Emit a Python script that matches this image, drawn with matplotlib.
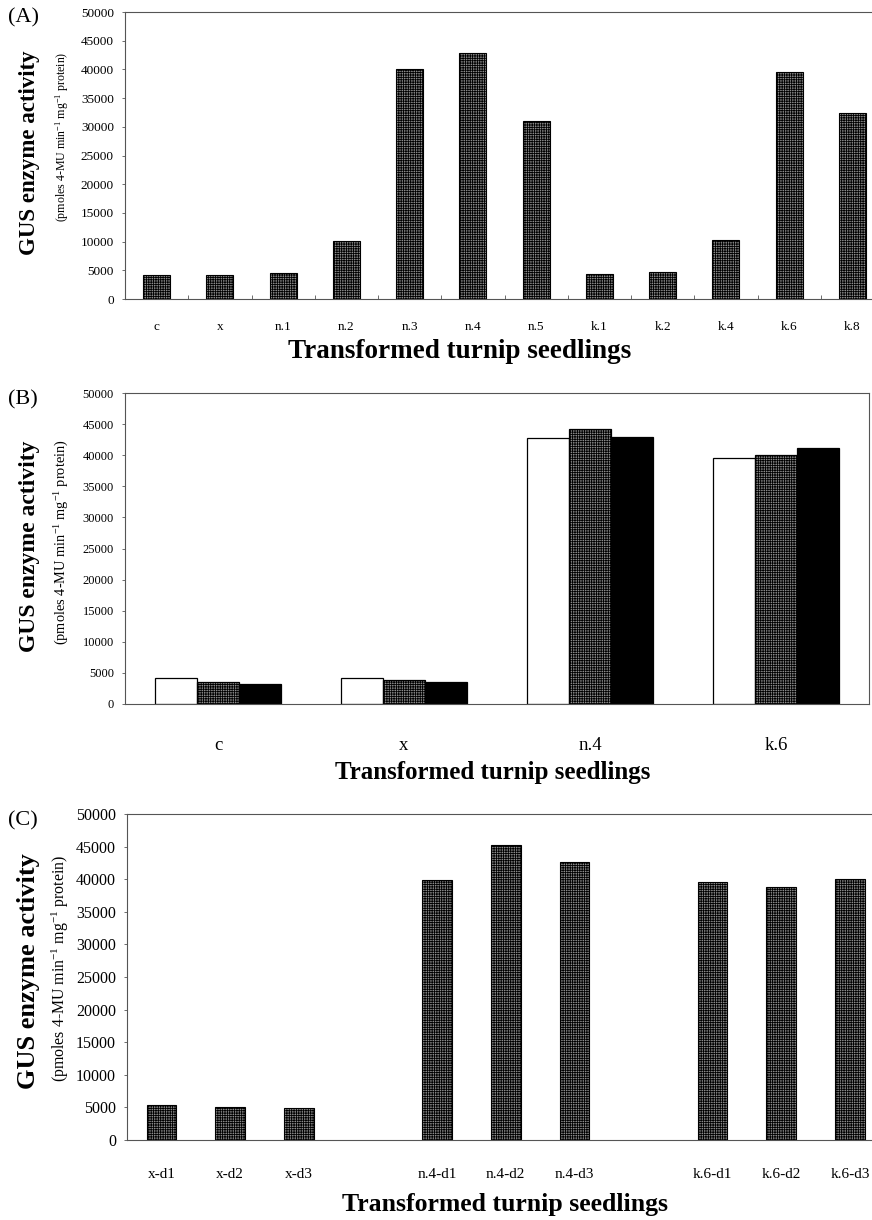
import numpy as np
import matplotlib.pyplot as plt

plt.rcParams['font.family'] = ['Liberation Serif', 'DejaVu Serif']
plt.rcParams['mathtext.default'] = 'regular'
plt.rcParams['hatch.linewidth'] = 0.6

# --- data ------------------------------------------------------------------
lines_a = ['c', 'x', 'n.1', 'n.2', 'n.3', 'n.4', 'n.5', 'k.1', 'k.2', 'k.4', 'k.6', 'k.8']
gus_a = [4150, 4250, 4550, 10150, 40000, 42850, 31050, 4300, 4750, 10250, 39600, 32450]

groups_b = ['c', 'x', 'n.4', 'k.6']
gus_b_white = [4100, 4100, 42800, 39500]
gus_b_gray = [3600, 3850, 44250, 40000]
gus_b_black = [3250, 3600, 42950, 41100]

groups_c = ['x', 'n.4', 'k.6']
days_c = ['d1', 'd2', 'd3']
gus_c = [5350, 5100, 4950, 39900, 45200, 42600, 39600, 38850, 40100]

YLABEL = 'GUS enzyme activity'
YSUB = '(pmoles 4-MU min$^{-1}$ mg$^{-1}$ protein)'
XLABEL = 'Transformed turnip seedlings'

W, H = 872, 1220
GRAY = '#8c8c8c'
HATCH = '+++++++'
FRAME = '#555555'


def fx(px):
    return px / W


def fy(py):
    return 1 - py / H


def style_axes(ax, tick_size):
    for s in ax.spines.values():
        s.set_color(FRAME)
        s.set_linewidth(0.8)
    ax.set_ylim(0, 50000)
    ax.set_yticks(np.arange(0, 50001, 5000))
    ax.tick_params(axis='y', length=2, width=0.6, color=FRAME, labelsize=tick_size, pad=6)


fig = plt.figure(figsize=(W / 100, H / 100), dpi=100)

# --- (A) -------------------------------------------------------------------
ax_a = fig.add_axes([fx(125), fy(299), fx(884 - 125), (299 - 12) / H])
xa = np.arange(len(lines_a))
ax_a.bar(xa, gus_a, width=0.43, color=GRAY, edgecolor='black', linewidth=0.8, hatch=HATCH)
style_axes(ax_a, 9.5)
ax_a.set_xlim(-0.5, len(lines_a) - 0.5)
ax_a.set_xticks(xa)
ax_a.set_xticklabels(lines_a)
ax_a.set_xticks(xa[:-1] + 0.5, minor=True)
ax_a.tick_params(axis='x', which='major', length=0, labelsize=9.5, pad=16)
ax_a.tick_params(axis='x', which='minor', length=3, direction='in', color=FRAME)

# --- (B) -------------------------------------------------------------------
ax_b = fig.add_axes([fx(125), fy(704), fx(869 - 125), (704 - 393) / H])
xb = np.arange(len(groups_b))
bw = 0.225
ax_b.bar(xb - bw, gus_b_white, width=bw, color='white', edgecolor='black', linewidth=0.9)
ax_b.bar(xb, gus_b_gray, width=bw, color=GRAY, edgecolor='black', linewidth=0.9, hatch=HATCH)
ax_b.bar(xb + bw, gus_b_black, width=bw, color='black', edgecolor='black', linewidth=0.9)
style_axes(ax_b, 9)
ax_b.set_xlim(-0.5, len(groups_b) - 0.5)
ax_b.set_xticks(xb)
ax_b.set_xticklabels(groups_b)
ax_b.tick_params(axis='x', length=0, labelsize=13.5, pad=24)

# --- (C) -------------------------------------------------------------------
ax_c = fig.add_axes([fx(127), fy(1140), fx(884.5 - 127), (1140 - 814) / H])
xc, labels_c = [], []
for g, grp in enumerate(groups_c):
    for d, day in enumerate(days_c):
        xc.append(g * (len(days_c) + 1) + d)
        labels_c.append(f'{grp}-{day}')
ax_c.bar(xc, gus_c, width=0.43, color=GRAY, edgecolor='black', linewidth=0.8, hatch=HATCH)
style_axes(ax_c, 11.5)
ax_c.set_xlim(-0.5, xc[-1] + 0.5)
ax_c.set_xticks(xc)
ax_c.set_xticklabels(labels_c)
ax_c.tick_params(axis='x', length=0, labelsize=11, pad=20)

# --- panel letters and axis titles -----------------------------------------
for letter, ytop in [('(A)', 8), ('(B)', 390), ('(C)', 811)]:
    fig.text(fx(8), fy(ytop), letter, fontsize=16, va='top', ha='left')

# (centre y of title, centre y of units, x of units, title size, units size)
for yc_main, yc_sub, xsub, fs_main, fs_sub in [(153, 137, 62, 16.5, 8.6),
                                               (546, 542, 62, 17, 10.4),
                                               (971, 968, 60, 19, 11.4)]:
    fig.text(fx(29), fy(yc_main), YLABEL, rotation=90, fontsize=fs_main, fontweight='bold',
             ha='center', va='center')
    fig.text(fx(xsub), fy(yc_sub), YSUB, rotation=90, fontsize=fs_sub, ha='center', va='center')

fig.text(fx(460), fy(352), XLABEL, fontsize=19.5, fontweight='bold', ha='center', va='center')
fig.text(fx(493), fy(773), XLABEL, fontsize=18, fontweight='bold', ha='center', va='center')
fig.text(fx(505), fy(1205), XLABEL, fontsize=18.5, fontweight='bold', ha='center', va='center')

fig.savefig('out.png', dpi=100, facecolor='white')
